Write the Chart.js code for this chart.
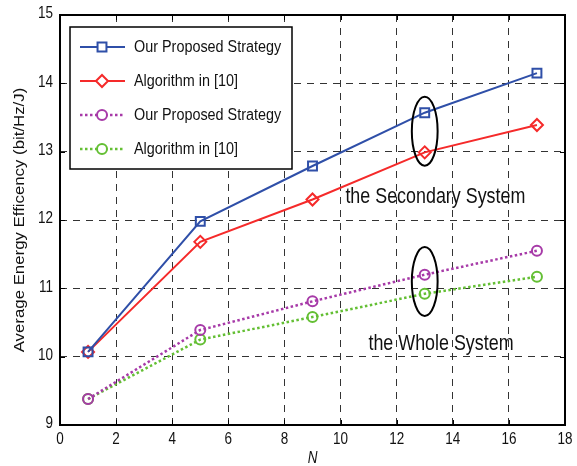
<!DOCTYPE html>
<html>
<head>
<meta charset="utf-8">
<script src="https://cdn.jsdelivr.net/npm/chart.js@4"></script>
<style>
  html, body { margin: 0; padding: 0; background: #fff; }
  #wrap { width: 577px; height: 466px; }
</style>
</head>
<body>
<div id="wrap"><canvas id="c" width="577" height="466"></canvas></div>
<script>
// Number of users N
const N = [1, 5, 9, 13, 17];

// Secondary system energy efficiency
const secProposed = [10.07, 11.98, 12.79, 13.57, 14.15];
const secAlg10    = [10.07, 11.68, 12.30, 12.99, 13.39];

// Whole system energy efficiency
const wholeProposed = [9.38, 10.39, 10.81, 11.20, 11.55];
const wholeAlg10    = [9.38, 10.25, 10.58, 10.92, 11.17];

const seriesLabels = ['Our Proposed Strategy', 'Algorithm in [10]', 'Our Proposed Strategy', 'Algorithm in [10]'];

const xTicks = [0, 2, 4, 6, 8, 10, 12, 14, 16, 18];
const yTicks = [9, 10, 11, 12, 13, 14, 15];

const xTitle = 'N';
const yTitle = 'Average Energy Efficency (bit/Hz/J)';

const FONT = '"Liberation Sans", Arial, sans-serif';
const TEXT_COLOR = '#111';
const STRETCH = 1.2;   // glyphs are drawn slightly taller than wide

function pts(vals) { return N.map((n, i) => ({ x: n, y: vals[i] })); }

const datasets = [
  { label: seriesLabels[0], data: pts(secProposed), borderColor: '#2f4fa8', pointStyle: 'rect',
    pointRadius: 6.3, borderWidth: 2, pointBorderWidth: 2, borderDash: [] },
  { label: seriesLabels[1], data: pts(secAlg10), borderColor: '#f52a2a', pointStyle: 'rectRot',
    pointRadius: 6, borderWidth: 2, pointBorderWidth: 2, borderDash: [] },
  { label: seriesLabels[2], data: pts(wholeProposed), borderColor: '#a73aa8', pointStyle: 'circle',
    pointRadius: 5, borderWidth: 2.5, pointBorderWidth: 2, borderDash: [2.5, 2.5] },
  { label: seriesLabels[3], data: pts(wholeAlg10), borderColor: '#64bf34', pointStyle: 'circle',
    pointRadius: 5, borderWidth: 2.5, pointBorderWidth: 2, borderDash: [2.5, 2.5] }
].map(d => Object.assign(d, {
  backgroundColor: 'rgba(0,0,0,0)',
  pointBackgroundColor: 'rgba(0,0,0,0)',
  pointBorderColor: d.borderColor,
  pointHoverRadius: d.pointRadius,
  fill: false,
  tension: 0
}));

// Ellipse callouts and their captions, in data coordinates
const callouts = [
  { x: 13, y: 13.30, rx: 0.46, ry: 0.505, text: 'the Secondary System', tx: 13.38, ty: 12.34 },
  { x: 13, y: 11.10, rx: 0.46, ry: 0.505, text: 'the Whole System',     tx: 13.58, ty: 10.19 }
];

// text drawn with a vertical stretch; rotated text is stretched along its length
function drawText(ctx, str, x, y, size, align, opts = {}) {
  ctx.save();
  ctx.translate(x, y);
  if (opts.rotate) { ctx.rotate(-Math.PI / 2); ctx.scale(STRETCH, 1); }
  else ctx.scale(1, STRETCH);
  ctx.fillStyle = TEXT_COLOR;
  ctx.font = (opts.italic ? 'italic ' : '') + size + 'px ' + FONT;
  ctx.textAlign = align;
  ctx.textBaseline = 'middle';
  ctx.fillText(str, 0, 0);
  ctx.restore();
}

const framePlugin = {
  id: 'frame',
  afterDatasetsDraw(chart) {
    const { ctx, chartArea: a, scales: { x, y } } = chart;
    ctx.save();

    // callout ellipses and captions
    callouts.forEach(c => {
      const cx = x.getPixelForValue(c.x), cy = y.getPixelForValue(c.y);
      const rx = Math.abs(x.getPixelForValue(c.x + c.rx) - cx);
      const ry = Math.abs(y.getPixelForValue(c.y + c.ry) - cy);
      ctx.strokeStyle = '#000';
      ctx.lineWidth = 2;
      ctx.setLineDash([]);
      ctx.beginPath();
      ctx.ellipse(cx, cy, rx, ry, 0, 0, Math.PI * 2);
      ctx.stroke();
      drawText(ctx, c.text, x.getPixelForValue(c.tx), y.getPixelForValue(c.ty), 17.9, 'center');
    });

    // solid plot frame with inward ticks
    ctx.setLineDash([]);
    ctx.lineWidth = 2;
    ctx.strokeStyle = '#000';
    ctx.strokeRect(a.left, a.top, a.right - a.left, a.bottom - a.top);
    ctx.lineWidth = 1;
    ctx.beginPath();
    xTicks.forEach(v => {
      const px = Math.round(x.getPixelForValue(v)) + 0.5;
      ctx.moveTo(px, a.bottom); ctx.lineTo(px, a.bottom - 5);
      ctx.moveTo(px, a.top); ctx.lineTo(px, a.top + 5);
    });
    yTicks.forEach(v => {
      const py = Math.round(y.getPixelForValue(v)) + 0.5;
      ctx.moveTo(a.left, py); ctx.lineTo(a.left + 5, py);
      ctx.moveTo(a.right, py); ctx.lineTo(a.right - 5, py);
    });
    ctx.stroke();

    // tick labels and axis titles
    xTicks.forEach(v => drawText(ctx, String(v), x.getPixelForValue(v), a.bottom + 15, 13.5, 'center'));
    yTicks.forEach(v => drawText(ctx, String(v), a.left - 7, y.getPixelForValue(v) - 1, 13.5, 'right'));
    drawText(ctx, xTitle, (a.left + a.right) / 2, a.bottom + 33, 13.5, 'center', { italic: true });
    drawText(ctx, yTitle, 20, (a.top + a.bottom) / 2, 14, 'center', { rotate: true });

    // legend box inside the plot area
    const lx = a.left + 10, ly = a.top + 12, lw = 222, lh = 142;
    ctx.fillStyle = '#fff';
    ctx.fillRect(lx, ly, lw, lh);
    ctx.lineWidth = 1.5;
    ctx.strokeStyle = '#000';
    ctx.strokeRect(lx, ly, lw, lh);
    chart.data.datasets.forEach((d, i) => {
      const ry = ly + 20 + i * 34;
      ctx.setLineDash(d.borderDash);
      ctx.strokeStyle = d.borderColor;
      ctx.lineWidth = d.borderWidth;
      ctx.beginPath();
      ctx.moveTo(lx + 10, ry); ctx.lineTo(lx + 55, ry);
      ctx.stroke();
      ctx.setLineDash([]);
      ctx.lineWidth = d.pointBorderWidth;
      ctx.fillStyle = '#fff';
      ctx.strokeStyle = d.borderColor;
      Chart.helpers.drawPoint(ctx, {
        pointStyle: d.pointStyle, radius: d.pointRadius, rotation: 0,
        borderWidth: d.pointBorderWidth
      }, lx + 32, ry);
      drawText(ctx, d.label, lx + 64, ry, 14.4, 'left');
    });
    ctx.restore();
  }
};

new Chart(document.getElementById('c'), {
  type: 'line',
  data: { datasets },
  options: {
    responsive: false,
    animation: false,
    layout: { padding: { top: 15, right: 12, left: 0, bottom: 0 } },
    plugins: { legend: { display: false }, tooltip: { enabled: false } },
    scales: {
      x: {
        type: 'linear', min: 0, max: 18,
        afterBuildTicks: s => { s.ticks = xTicks.map(v => ({ value: v })); },
        afterFit: s => { s.height = 41; },
        grid: { color: '#333', lineWidth: 1, drawTicks: false },
        border: { display: false, dash: [7, 6] },
        ticks: { display: false }
      },
      y: {
        type: 'linear', min: 9, max: 15,
        afterBuildTicks: s => { s.ticks = yTicks.map(v => ({ value: v })); },
        afterFit: s => { s.width = 60; },
        grid: { color: '#333', lineWidth: 1, drawTicks: false },
        border: { display: false, dash: [7, 6] },
        ticks: { display: false }
      }
    }
  },
  plugins: [framePlugin]
});
</script>
</body>
</html>
